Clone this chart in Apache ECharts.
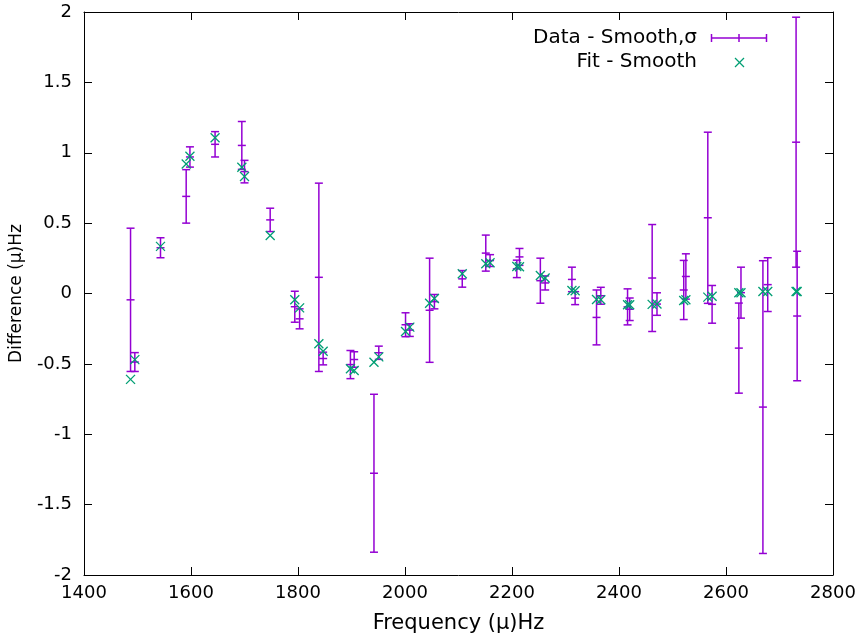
<!DOCTYPE html>
<html>
<head>
<meta charset="utf-8">
<script src="https://cdn.jsdelivr.net/npm/echarts@6/dist/echarts.min.js"></script>
<style>html,body{margin:0;padding:0;background:#fff}#c{width:865px;height:640px}</style>
</head>
<body>
<div id="c"></div>
<script>
// Data - Smooth (frequency, value, sigma)
const freq  = [1487,1495,1543,1591,1598,1645,1695,1700,1748,1794,1803,1839,1847,1898,1905,1942,1951,2001,2009,2046,2055,2107,2151,2159,2209,2214,2253,2262,2312,2318,2358,2366,2416,2420,2462,2471,2521,2525,2566,2574,2624,2628,2669,2678,2731,2733];
const value = [-0.045,-0.487,0.325,0.69,0.97,1.06,1.052,0.866,0.523,-0.094,-0.18,0.115,-0.462,-0.505,-0.469,-1.277,-0.421,-0.222,-0.26,-0.119,-0.058,0.104,0.287,0.234,0.175,0.26,0.091,0.075,0.1,-0.033,-0.17,-0.016,-0.095,-0.112,0.11,-0.075,0.025,0.121,0.538,-0.077,-0.388,0.006,-0.807,0.063,1.075,-0.16];
const sigma = [0.509,0.067,0.071,0.19,0.072,0.09,0.17,0.08,0.083,0.11,0.071,0.669,0.045,0.1,0.055,0.561,0.047,0.085,0.045,0.37,0.051,0.059,0.128,0.042,0.062,0.06,0.16,0.05,0.087,0.046,0.195,0.06,0.128,0.08,0.38,0.08,0.21,0.161,0.608,0.134,0.32,0.181,1.04,0.191,0.888,0.46];
// Fit - Smooth
const fitFreq = freq;
const fit   = [-0.61,-0.47,0.335,0.92,0.975,1.106,0.897,0.831,0.412,-0.045,-0.102,-0.357,-0.41,-0.535,-0.547,-0.488,-0.45,-0.27,-0.239,-0.069,-0.035,0.14,0.211,0.218,0.192,0.19,0.128,0.11,0.021,0.02,-0.043,-0.045,-0.08,-0.08,-0.077,-0.075,-0.05,-0.045,-0.026,-0.02,0.005,0.005,0.014,0.014,0.014,0.014];
const xTicks = {min:1400, max:2800, interval:200};
const yTicks = {min:-2, max:2, interval:0.5};

const PURPLE = '#9400d3', GREEN = '#009e73';
const FONT = 'DejaVu Sans';

const errData = freq.map((f,i)=>[f, value[i], sigma[i]]);
const fitData = fitFreq.map((f,i)=>[f, fit[i]]);

const chart = echarts.init(document.getElementById('c'), null, {renderer:'canvas'});
const axisCommon = {
  axisLine:{show:true, onZero:false, lineStyle:{color:'#000', width:1}},
  axisTick:{show:true, inside:true, length:8, lineStyle:{color:'#000', width:1}},
  splitLine:{show:false}
};
function errItem(params, api){
  const x = api.value(0), y = api.value(1), s = api.value(2);
  const t = api.coord([x, y+s]), b = api.coord([x, y-s]), m = api.coord([x, y]);
  const w = 4;
  const st = {stroke: PURPLE, lineWidth: 1.5};
  return {type:'group', children:[
    {type:'line', shape:{x1:t[0],y1:t[1],x2:b[0],y2:b[1]}, style:st},
    {type:'line', shape:{x1:t[0]-w,y1:t[1],x2:t[0]+w,y2:t[1]}, style:st},
    {type:'line', shape:{x1:b[0]-w,y1:b[1],x2:b[0]+w,y2:b[1]}, style:st},
    {type:'line', shape:{x1:m[0]-w,y1:m[1],x2:m[0]+w,y2:m[1]}, style:st}
  ]};
}
function crossItem(params, api){
  const p = api.coord([api.value(0), api.value(1)]);
  const r = 4.5;
  const st = {stroke: GREEN, lineWidth: 1.3};
  return {type:'group', children:[
    {type:'line', shape:{x1:p[0]-r,y1:p[1]-r,x2:p[0]+r,y2:p[1]+r}, style:st},
    {type:'line', shape:{x1:p[0]-r,y1:p[1]+r,x2:p[0]+r,y2:p[1]-r}, style:st}
  ]};
}
const fmt = v => String(v);
const option = {
  backgroundColor:'#fff',
  animation:false,
  grid:{left:84, right:32, top:12, bottom:65, containLabel:false},
  xAxis:[
    Object.assign({type:'value', position:'bottom', min:xTicks.min, max:xTicks.max, interval:xTicks.interval,
      name:'Frequency (μ)Hz', nameLocation:'middle', nameGap:38,
      nameTextStyle:{fontFamily:FONT, fontSize:21, color:'#000'},
      axisLabel:{show:true, margin:9, fontFamily:FONT, fontSize:18, color:'#000', formatter:fmt}}, axisCommon),
    Object.assign({type:'value', position:'top', min:xTicks.min, max:xTicks.max, interval:xTicks.interval,
      axisLabel:{show:false}}, axisCommon)
  ],
  yAxis:[
    Object.assign({type:'value', position:'left', min:yTicks.min, max:yTicks.max, interval:yTicks.interval,
      name:'Difference (μ)Hz', nameLocation:'middle', nameGap:59, nameRotate:90,
      nameTextStyle:{fontFamily:FONT, fontSize:17, color:'#000'},
      axisLabel:{show:true, margin:12, fontFamily:FONT, fontSize:18, color:'#000', formatter:fmt}}, axisCommon),
    Object.assign({type:'value', position:'right', min:yTicks.min, max:yTicks.max, interval:yTicks.interval,
      axisLabel:{show:false}}, axisCommon)
  ],
  series:[
    {type:'custom', name:'Data - Smooth,σ', xAxisIndex:0, yAxisIndex:0, renderItem:errItem,
      encode:{x:0, y:1}, data:errData, z:2},
    {type:'custom', name:'Fit - Smooth', xAxisIndex:0, yAxisIndex:0, renderItem:crossItem,
      encode:{x:0, y:1}, data:fitData, z:3}
  ],
  graphic:[
    {type:'text', x:697, y:38, style:{text:'Data - Smooth,σ', font:'20px "DejaVu Sans"', fill:'#000', align:'right', verticalAlign:'middle'}},
    {type:'text', x:697, y:62, style:{text:'Fit - Smooth', font:'20px "DejaVu Sans"', fill:'#000', align:'right', verticalAlign:'middle'}},
    {type:'line', shape:{x1:711.5,y1:38,x2:766.5,y2:38}, style:{stroke:PURPLE, lineWidth:1.5}},
    {type:'line', shape:{x1:711.5,y1:34,x2:711.5,y2:42}, style:{stroke:PURPLE, lineWidth:1.5}},
    {type:'line', shape:{x1:766.5,y1:34,x2:766.5,y2:42}, style:{stroke:PURPLE, lineWidth:1.5}},
    {type:'line', shape:{x1:739,y1:34,x2:739,y2:42}, style:{stroke:PURPLE, lineWidth:1.5}},
    {type:'line', shape:{x1:735,y1:58,x2:744,y2:67}, style:{stroke:GREEN, lineWidth:1.3}},
    {type:'line', shape:{x1:735,y1:67,x2:744,y2:58}, style:{stroke:GREEN, lineWidth:1.3}}
  ]
};
chart.setOption(option);
</script>
</body>
</html>
